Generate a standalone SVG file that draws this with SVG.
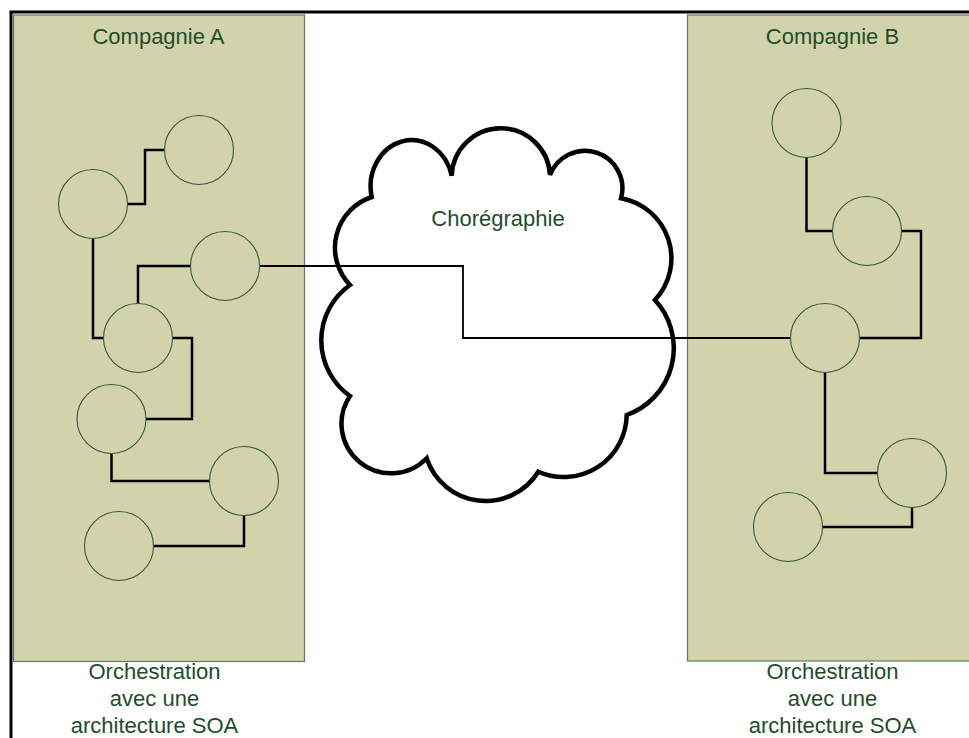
<svg xmlns="http://www.w3.org/2000/svg" width="969" height="738" viewBox="0 0 969 738">
  <style>
    .frame { fill: none; stroke: #000; stroke-width: 3; }
    .company { fill: #D2D2AB; stroke: #5B7E62; stroke-width: 1.2; }
    .svc { fill: #D2D2AB; stroke: #2E5A3A; stroke-width: 1.1; }
    .link { fill: none; stroke: #000; stroke-width: 2.5; }
    .link-thin { fill: none; stroke: #000; stroke-width: 1.8; }
    .cloud { fill: #fff; stroke: #000; stroke-width: 4.5; stroke-linejoin: miter; stroke-miterlimit: 4; }
    .lbl { font-family: "Liberation Sans", Arial, sans-serif; font-size: 22px; fill: #1E4D2B; text-anchor: middle; }
  </style>

  <rect width="969" height="738" fill="#fff"/>

  <!-- outer frame (runs off the right and bottom edges) -->
  <rect class="frame" x="11" y="12" width="1000" height="800"/>

  <!-- company containers -->
  <g id="compagnie-a">
    <rect class="company" x="13.5" y="15" width="291" height="646.5"/>
    <text class="lbl" x="158.5" y="43.5">Compagnie A</text>
    <text class="lbl" x="154.5" y="679">Orchestration</text>
    <text class="lbl" x="154.5" y="706">avec une</text>
    <text class="lbl" x="154.5" y="733">architecture SOA</text>
  </g>
  <g id="compagnie-b">
    <rect class="company" x="687.5" y="15" width="300" height="646"/>
    <text class="lbl" x="832.5" y="43.5">Compagnie B</text>
    <text class="lbl" x="832.5" y="679">Orchestration</text>
    <text class="lbl" x="832.5" y="706">avec une</text>
    <text class="lbl" x="832.5" y="733">architecture SOA</text>
  </g>

  <!-- choreography cloud -->
  <g id="choregraphie">
    <path class="cloud" d="M371.7,197
      A40,45 0 1 1 451.7,175.7
      A49.2,49.2 0 0 1 550,175
      A37.4,37.4 0 0 1 621,198.3
      A61,61 0 0 1 655,300
      A71,71 0 0 1 626.7,415
      A63,63 0 0 1 538.3,471.7
      A62,62 0 0 1 426.7,458.3
      A49.6,49.6 0 0 1 350,396
      A68,68 0 0 1 350,285
      A53.5,53.5 0 0 1 371.7,197 Z"/>
    <text class="lbl" x="498" y="226">Chorégraphie</text>
  </g>

  <!-- connectors -->
  <g id="connectors">
    <path class="link" d="M127.5,204 H145 V150 H164.5"/>
    <path class="link" d="M93,238.5 V338 H103.5"/>
    <path class="link" d="M138,303.5 V266 H190.5"/>
    <path class="link" d="M172.5,338 H192 V419 H146"/>
    <path class="link" d="M111.5,453.5 V481 H209.5"/>
    <path class="link" d="M244,515.5 V546 H153.5"/>
    <path class="link-thin" d="M259.5,266 H463 V338 H790.5"/>
    <path class="link" d="M806.5,157.5 V231 H832.5"/>
    <path class="link" d="M901.5,231 H921 V338 H859.5"/>
    <path class="link" d="M825,372.5 V473 H877.5"/>
    <path class="link" d="M912,507.5 V527 H822.5"/>
  </g>

  <!-- services of company A -->
  <g id="a1"><circle class="svc" cx="199" cy="150" r="34.5"/></g>
  <g id="a2"><circle class="svc" cx="93" cy="204" r="34.5"/></g>
  <g id="a3"><circle class="svc" cx="225" cy="266" r="34.5"/></g>
  <g id="a4"><circle class="svc" cx="138" cy="338" r="34.5"/></g>
  <g id="a5"><circle class="svc" cx="111.5" cy="419" r="34.5"/></g>
  <g id="a6"><circle class="svc" cx="244" cy="481" r="34.5"/></g>
  <g id="a7"><circle class="svc" cx="119" cy="546" r="34.5"/></g>

  <!-- services of company B -->
  <g id="b1"><circle class="svc" cx="806.5" cy="123" r="34.5"/></g>
  <g id="b2"><circle class="svc" cx="867" cy="231" r="34.5"/></g>
  <g id="b3"><circle class="svc" cx="825" cy="338" r="34.5"/></g>
  <g id="b4"><circle class="svc" cx="912" cy="473" r="34.5"/></g>
  <g id="b5"><circle class="svc" cx="788" cy="527" r="34.5"/></g>
</svg>
